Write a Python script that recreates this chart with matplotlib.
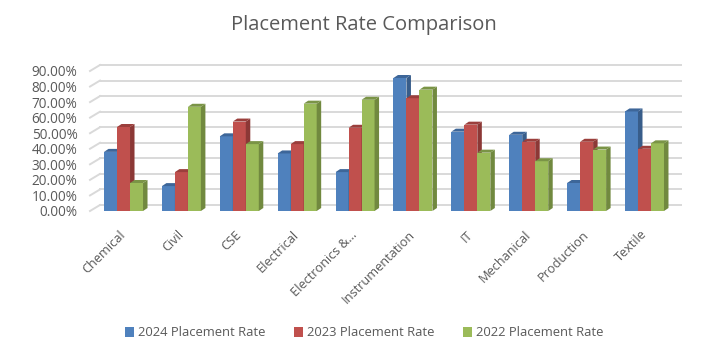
import numpy as np
import matplotlib
matplotlib.use("Agg")
import matplotlib.pyplot as plt
from matplotlib.patches import Polygon
from matplotlib.ticker import PercentFormatter

departments = ["Chemical", "Civil", "CSE", "Electrical", "Electronics &...",
               "Instrumentation", "IT", "Mechanical", "Production", "Textile"]
rate_2024 = [0.38, 0.16, 0.48, 0.37, 0.25, 0.855, 0.51, 0.49, 0.18, 0.64]
rate_2023 = [0.54, 0.25, 0.575, 0.43, 0.535, 0.725, 0.555, 0.445, 0.445, 0.40]
rate_2022 = [0.18, 0.67, 0.43, 0.69, 0.715, 0.78, 0.375, 0.32, 0.395, 0.435]
series_names = ["2024 Placement Rate", "2023 Placement Rate", "2022 Placement Rate"]
y_ticks = [0.0, 0.1, 0.2, 0.3, 0.4, 0.5, 0.6, 0.7, 0.8, 0.9]

front_c = ["#4F81BD", "#C0504D", "#9BBB59"]
side_c = ["#385D8A", "#8C3836", "#71893F"]
top_c = ["#3D6699", "#9B3F3C", "#7A9446"]
grid_c = "#D9D9D9"
text_c = "#595959"

plt.rcParams['font.family'] = ['Open Sans', 'DejaVu Sans']

W, H = 728, 358
fig = plt.figure(figsize=(W / 100, H / 100), dpi=100)
ax = fig.add_axes([90 / W, 147 / H, 581 / W, 140 / H])
x0, x1 = -0.579, 9.458
ax.set_xlim(x0, x1)
ax.set_ylim(0, 0.9)

# pixel -> data unit helpers for the fake 3d depth
px_x = (x1 - x0) / 581
px_y = 0.9 / 140
dx, dy = 4.5 * px_x, 3 * px_y     # bar depth
wx, wy = 10 * px_x, 6 * px_y      # wall depth

# back wall + side wall gridlines
for v in y_ticks:
    ax.plot([x0 + wx, x1 + wx], [v + wy, v + wy], color=grid_c, lw=1.4,
            clip_on=False, zorder=0)
    ax.plot([x0, x0 + wx], [v, v + wy], color=grid_c, lw=1.4,
            clip_on=False, zorder=0)

x = np.arange(len(departments))
bw = 13 * px_x
containers = []
for i, vals in enumerate([rate_2024, rate_2023, rate_2022]):
    bars = ax.bar(x + (i - 1) * bw, vals, bw, color=front_c[i], zorder=2 + i,
                  label=series_names[i], clip_on=False)
    containers.append(bars)
    for r in bars:
        bx, bh, bwid = r.get_x(), r.get_height(), r.get_width()
        side = Polygon([(bx + bwid, 0), (bx + bwid, bh), (bx + bwid + dx, bh + dy),
                        (bx + bwid + dx, dy)], closed=True, facecolor=side_c[i],
                       edgecolor='none', zorder=2 + i, clip_on=False)
        top = Polygon([(bx, bh), (bx + bwid, bh), (bx + bwid + dx, bh + dy),
                       (bx + dx, bh + dy)], closed=True, facecolor=top_c[i],
                      edgecolor='none', zorder=2 + i, clip_on=False)
        ax.add_patch(side)
        ax.add_patch(top)

for s in ax.spines.values():
    s.set_visible(False)
ax.set_yticks(y_ticks)
ax.yaxis.set_major_formatter(PercentFormatter(1, decimals=2))
ax.tick_params(axis='y', length=0, pad=9, labelsize=9.8, labelcolor=text_c)
ax.set_xticks(x)
ax.set_xticklabels(departments, rotation=45, ha='right', va='center',
                   rotation_mode='anchor')
ax.tick_params(axis='x', length=0, pad=15.5, labelsize=9.2, labelcolor=text_c)

fig.text(0.5, 1 - 25 / H, "Placement Rate Comparison", ha='center', va='center',
         fontsize=14.5, color=text_c)

fig.legend(handles=containers, labels=series_names, loc='center',
           bbox_to_anchor=(0.5, 1 - 333 / H), ncol=3, frameon=False,
           handlelength=0.7, handleheight=0.7, handletextpad=0.3,
           columnspacing=2.2, fontsize=9.4, labelcolor=text_c)

fig.savefig("out.png", dpi=100)
